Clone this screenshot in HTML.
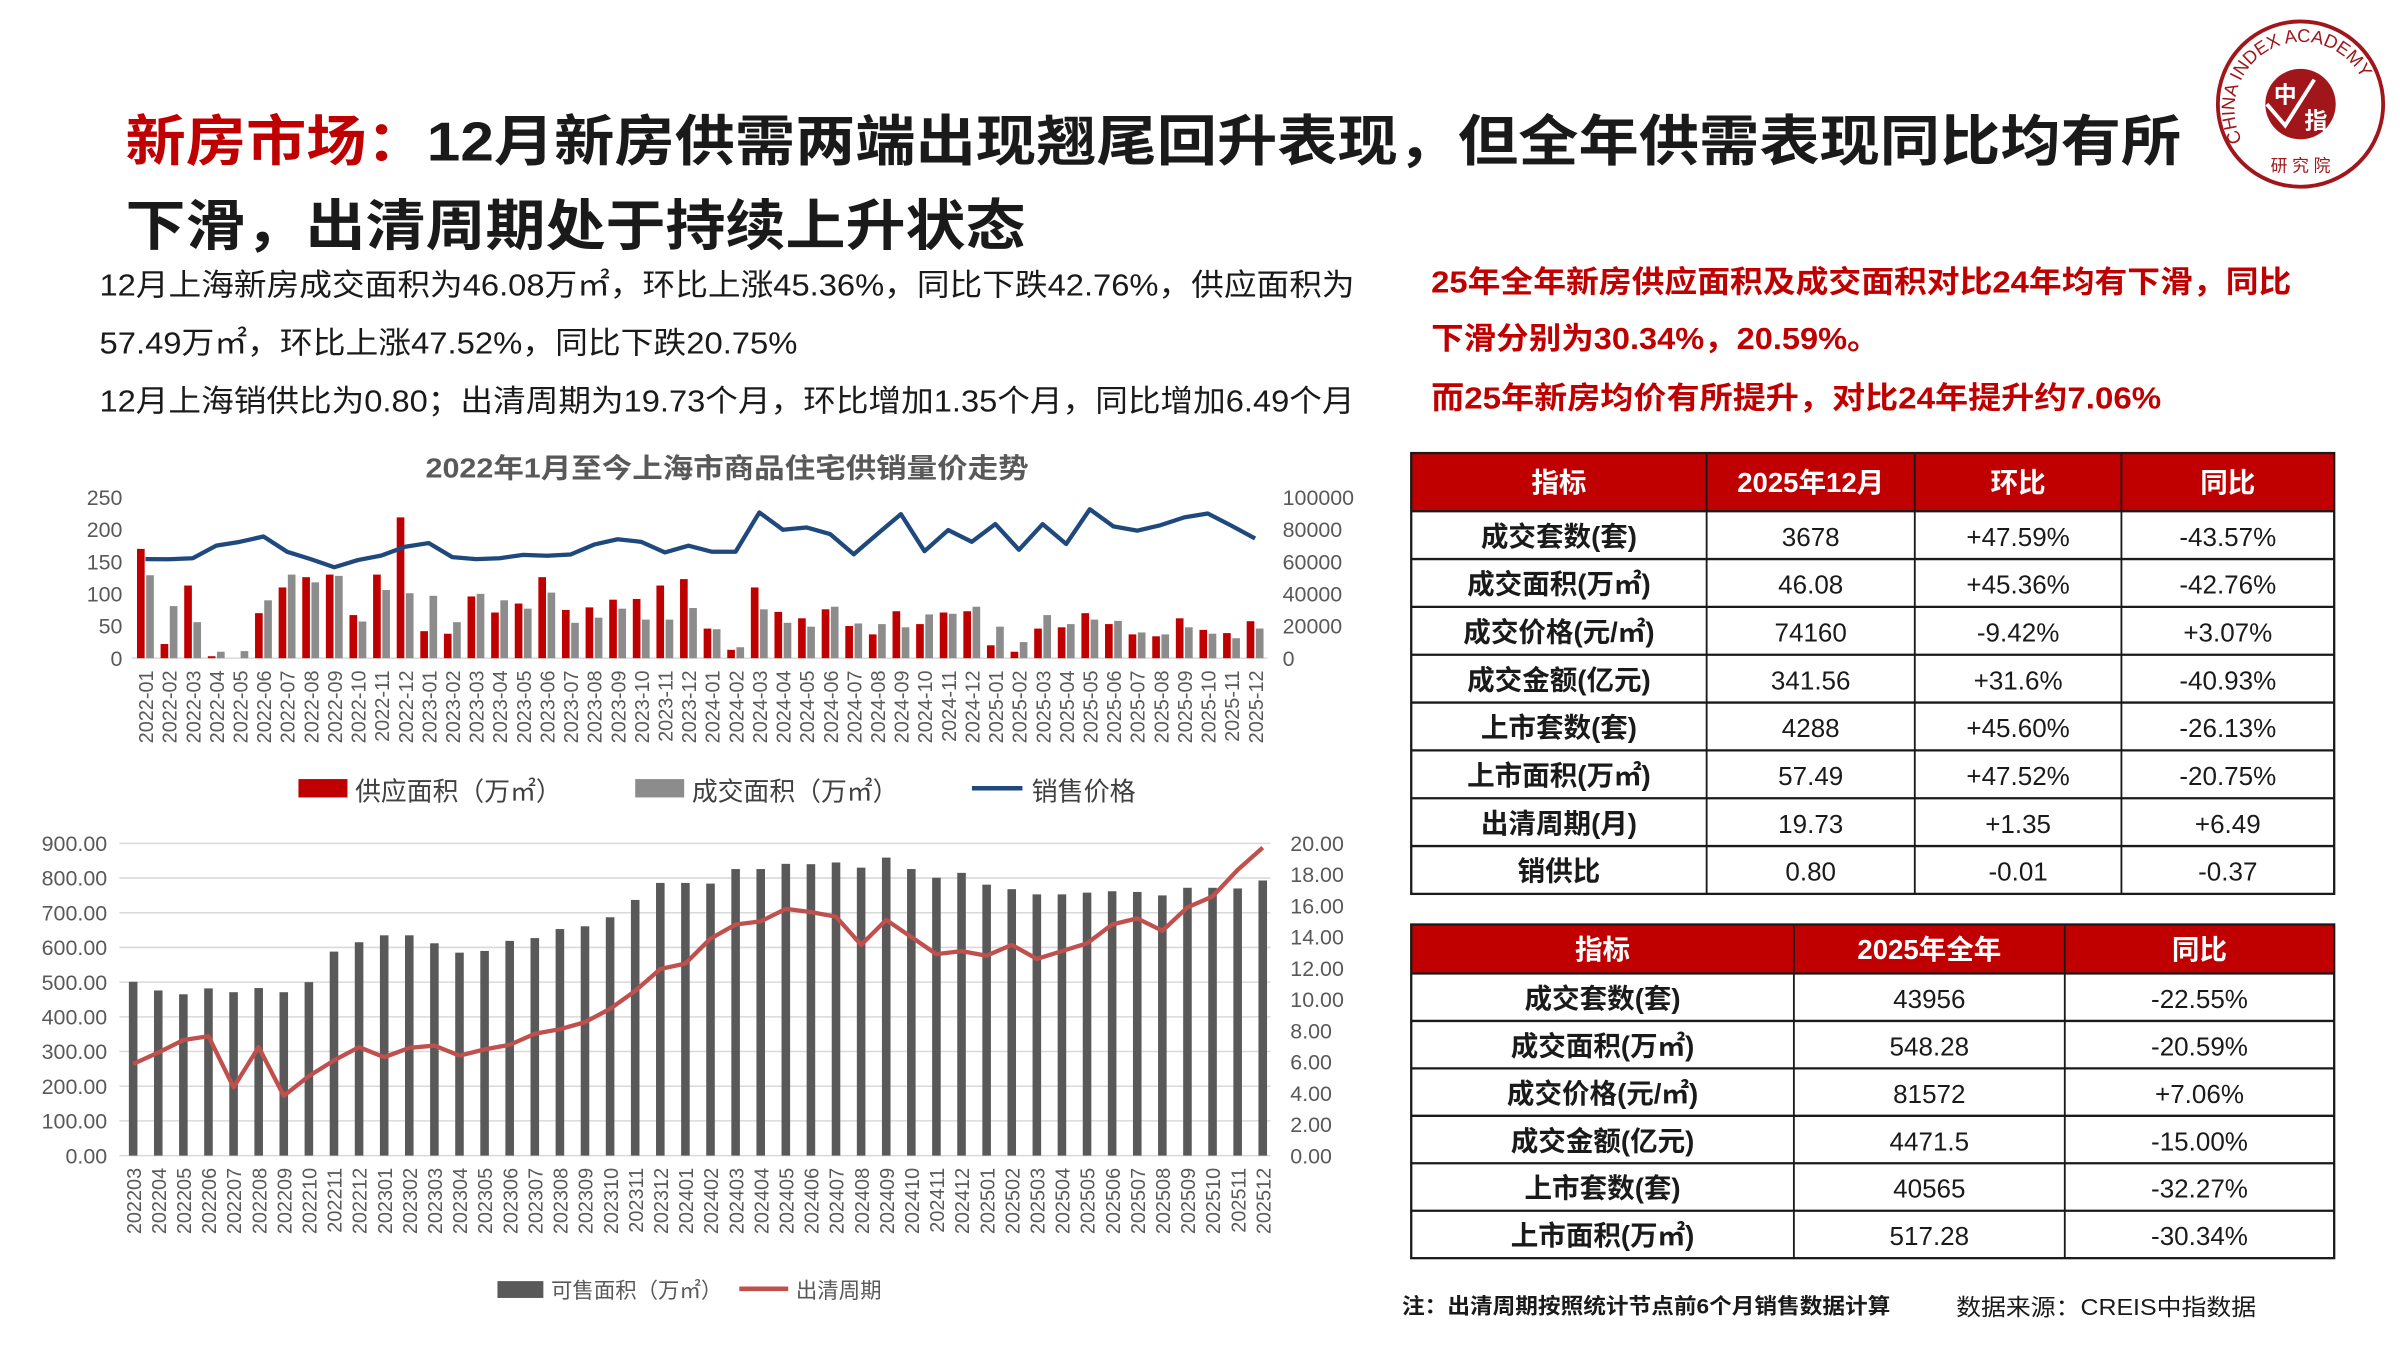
<!DOCTYPE html>
<html><head><meta charset="utf-8">
<style>
html,body{margin:0;padding:0;background:#fff;}
svg{display:block;}
text{font-family:"Liberation Sans","Noto Sans CJK SC",sans-serif;}
</style></head>
<body>
<svg id="s" xmlns="http://www.w3.org/2000/svg" width="2400" height="1350" viewBox="0 0 1568 882">
<rect width="1568" height="882" fill="#fff"/>
<!-- Title -->
<text x="82" y="105" font-size="36" font-weight="bold" fill="#1a1a1a" textLength="1343" lengthAdjust="spacingAndGlyphs"><tspan fill="#C00000">新房市场：</tspan>12月新房供需两端出现翘尾回升表现，但全年供需表现同比均有所</text>
<text x="82" y="160" font-size="36" font-weight="bold" fill="#1a1a1a" textLength="588" lengthAdjust="spacingAndGlyphs">下滑，出清周期处于持续上升状态</text>
<text x="65" y="193" font-size="20" fill="#1a1a1a" textLength="820" lengthAdjust="spacingAndGlyphs">12月上海新房成交面积为46.08万㎡，环比上涨45.36%，同比下跌42.76%，供应面积为</text>
<text x="65" y="231" font-size="20" fill="#1a1a1a" textLength="456" lengthAdjust="spacingAndGlyphs">57.49万㎡，环比上涨47.52%，同比下跌20.75%</text>
<text x="65" y="269" font-size="20" fill="#1a1a1a" textLength="820" lengthAdjust="spacingAndGlyphs">12月上海销供比为0.80；出清周期为19.73个月，环比增加1.35个月，同比增加6.49个月</text>
<text x="935" y="191" font-size="20" font-weight="bold" fill="#C00000" textLength="562" lengthAdjust="spacingAndGlyphs">25年全年新房供应面积及成交面积对比24年均有下滑，同比</text>
<text x="935" y="228" font-size="20" font-weight="bold" fill="#C00000" textLength="293" lengthAdjust="spacingAndGlyphs">下滑分别为30.34%，20.59%。</text>
<text x="935" y="267" font-size="20" font-weight="bold" fill="#C00000" textLength="477" lengthAdjust="spacingAndGlyphs">而25年新房均价有所提升，对比24年提升约7.06%</text>
<!-- Logo -->
<g>
<circle cx="1503" cy="68" r="54" fill="#fff" stroke="#A0161B" stroke-width="2.5"/>
<circle cx="1503" cy="68" r="23" fill="#A0161B"/>
<path d="M1481 68 L1493 82 L1512 52" fill="none" stroke="#fff" stroke-width="2.5"/>
<text x="1493" y="67" font-size="15" font-weight="bold" fill="#fff" text-anchor="middle">中</text>
<text x="1513" y="84" font-size="15" font-weight="bold" fill="#fff" text-anchor="middle">指</text>
<path id="arc" d="M1465 92 A44 44 0 1 1 1546 84" fill="none"/>
<text font-size="12" font-family="Liberation Serif" fill="#A0161B"><textPath href="#arc">CHINA INDEX ACADEMY</textPath></text>
<text x="1503" y="112" font-size="11" fill="#A0161B" text-anchor="middle">研 究 院</text>
</g>
<!-- chart 1 -->
<text x="475" y="312" font-size="18" font-weight="bold" fill="#595959" text-anchor="middle" textLength="394" lengthAdjust="spacingAndGlyphs">2022年1月至今上海市商品住宅供销量价走势</text>
<g id="c1"></g>
<!-- legend 1 -->
<rect x="195" y="509" width="32" height="12" fill="#C00000"/>
<text x="232" y="523" font-size="17" fill="#404040" textLength="135" lengthAdjust="spacingAndGlyphs">供应面积（万㎡）</text>
<rect x="415" y="509" width="32" height="12" fill="#8c8c8c"/>
<text x="452" y="523" font-size="17" fill="#404040" textLength="135" lengthAdjust="spacingAndGlyphs">成交面积（万㎡）</text>
<line x1="635" y1="515" x2="668" y2="515" stroke="#1F497D" stroke-width="3"/>
<text x="674" y="523" font-size="17" fill="#404040">销售价格</text>
<!-- chart 2 -->
<g id="c2"></g>
<rect x="325" y="837" width="30" height="11" fill="#595959"/>
<text x="360" y="848" font-size="14" fill="#595959">可售面积（万㎡）</text>
<line x1="483" y1="842" x2="515" y2="842" stroke="#C0504D" stroke-width="3"/>
<text x="520" y="848" font-size="14" fill="#595959">出清周期</text>
<!-- tables -->
<g id="t1"></g>
<g id="t2"></g>
<text x="916" y="858" font-size="14" font-weight="bold" fill="#1a1a1a" textLength="319" lengthAdjust="spacingAndGlyphs">注：出清周期按照统计节点前6个月销售数据计算</text>
<text x="1278" y="859" font-size="15" fill="#1a1a1a" textLength="196" lengthAdjust="spacingAndGlyphs">数据来源：CREIS中指数据</text>
</svg>
<script>
const NS="http://www.w3.org/2000/svg";
function el(p,tag,attrs,txt){const e=document.createElementNS(NS,tag);for(const k in attrs)e.setAttribute(k,attrs[k]);if(txt!==undefined)e.textContent=txt;p.appendChild(e);return e;}
const c1=document.getElementById('c1');
const red=[170,22,113,3,0,70,110,126,130,67,130,219,42,38,96,71,85,126,75,79,91,92,113,123,46,13,110,72,62,76,50,37,73,53,71,73,20,10,46,48,70,53,37,34,62,44,39,57.49];
const gray=[129,81,56,10,11,90,130,118,128,57,106,101,97,56,100,90,77,102,55,63,77,60,60,78,45,17,76,55,49,80,54,53,48,68,69,80,49,25,67,53,60,58,40,37,48,38,31,46.08];
const price=[61600,61500,62200,70000,72400,75700,66200,61600,56600,61000,63900,69300,71600,62900,61600,62200,64300,63700,64500,70700,74000,72400,65800,70000,66200,66200,90700,79900,81300,77200,64700,77200,89600,66600,79700,72400,83400,67400,83400,71000,92700,82000,79300,82800,87600,90000,82400,74500];
const y0=430,sc=105/250,x0=95,st=(820-95)/47;
[0,50,100,150,200,250].forEach(v=>el(c1,'text',{x:80,y:y0-v*sc+5,'font-size':14,fill:'#595959','text-anchor':'end'},v));
[0,20000,40000,60000,80000,100000].forEach(v=>el(c1,'text',{x:838,y:y0-v*105/100000+5,'font-size':14,fill:'#595959'},v));
el(c1,'line',{x1:86,y1:y0,x2:828,y2:y0,stroke:'#d9d9d9','stroke-width':1});
let pts=[];
for(let i=0;i<48;i++){const cx=x0+i*st;
 el(c1,'rect',{x:cx-5.5,y:y0-red[i]*sc,width:5,height:red[i]*sc,fill:'#C00000'});
 el(c1,'rect',{x:cx+0.5,y:y0-gray[i]*sc,width:5,height:gray[i]*sc,fill:'#8c8c8c'});
 pts.push(cx.toFixed(1)+','+(y0-price[i]*105/100000).toFixed(1));
 const yr=2022+Math.floor(i/12),m=i%12+1;
 el(c1,'text',{transform:`translate(${cx+5},${y0+8}) rotate(-90)`,'font-size':13,fill:'#595959','text-anchor':'end'},yr+'-'+(m<10?'0':'')+m);
}
el(c1,'polyline',{points:pts.join(' '),fill:'none',stroke:'#1F497D','stroke-width':2.8,'stroke-linejoin':'round'});
const c2=document.getElementById('c2');
const stock=[501,476,465,482,471,483,471,500,588,615,635,635,612,585,590,619,627,653,661,687,737,786,786,784,826,826,841,840,845,830,859,826,801,815,781,768,753,753,758,762,760,750,772,772,770,793];
const cyc=[5.87,6.6,7.4,7.65,4.37,6.95,3.83,5.1,6.1,6.95,6.3,6.9,7.05,6.4,6.8,7.1,7.8,8.1,8.55,9.4,10.55,11.95,12.3,13.9,14.8,15.0,15.8,15.6,15.3,13.5,15.1,14.0,12.9,13.1,12.8,13.5,12.6,13.1,13.6,14.8,15.2,14.4,15.9,16.6,18.3,19.73];
const b0=755,bs=204/900,bx0=87,bst=(825-87)/45;
for(let v=0;v<=900;v+=100){const y=b0-v*bs;
 el(c2,'line',{x1:78,y1:y,x2:830,y2:y,stroke:'#d9d9d9','stroke-width':1});
 el(c2,'text',{x:70,y:y+5,'font-size':14,fill:'#595959','text-anchor':'end'},v.toFixed(2));}
for(let v=0;v<=20;v+=2){const y=b0-v*204/20;
 el(c2,'text',{x:843,y:y+5,'font-size':14,fill:'#595959'},v.toFixed(2));}
let p2=[];
for(let i=0;i<46;i++){const cx=bx0+i*bst;const mi=i+2;const yr=2022+Math.floor(mi/12),m=mi%12+1;
 el(c2,'rect',{x:cx-2.8,y:b0-stock[i]*bs,width:5.6,height:stock[i]*bs,fill:'#595959'});
 p2.push(cx.toFixed(1)+','+(b0-cyc[i]*204/20).toFixed(1));
 el(c2,'text',{transform:`translate(${cx+5},${b0+8}) rotate(-90)`,'font-size':13,fill:'#595959','text-anchor':'end'},''+yr+(m<10?'0':'')+m);
}
el(c2,'polyline',{points:p2.join(' '),fill:'none',stroke:'#C0504D','stroke-width':2.8,'stroke-linejoin':'round'});
function table(g,x,cols,y,hh,rh,head,rows){
 const W=cols.reduce((a,b)=>a+b,0);
 el(g,'rect',{x:x,y:y,width:W,height:hh,fill:'#C00000'});
 let cx=x;
 head.forEach((h,i)=>{el(g,'text',{x:cx+cols[i]/2,y:y+hh/2+6.5,'font-size':18,'font-weight':'bold',fill:'#fff','text-anchor':'middle'},h);cx+=cols[i];});
 rows.forEach((r,j)=>{const ry=y+hh+j*rh;cx=x;
  r.forEach((t,i)=>{el(g,'text',{x:cx+cols[i]/2,y:ry+rh/2+7,'font-size':i==0?18:17,'font-weight':i==0?'bold':'normal',fill:'#1a1a1a','text-anchor':'middle'},t);cx+=cols[i];});
  el(g,'line',{x1:x,y1:ry,x2:x+W,y2:ry,stroke:'#1a1a1a','stroke-width':1.5});
 });
 const H=hh+rows.length*rh;
 el(g,'rect',{x:x,y:y,width:W,height:H,fill:'none',stroke:'#1a1a1a','stroke-width':1.5});
 cx=x;cols.slice(0,-1).forEach(c=>{cx+=c;el(g,'line',{x1:cx,y1:y,x2:cx,y2:y+H,stroke:'#1a1a1a','stroke-width':1.2});});
}
table(document.getElementById('t1'),922,[193,136,135,139],296,38,31.25,['指标','2025年12月','环比','同比'],[
['成交套数(套)','3678','+47.59%','-43.57%'],['成交面积(万㎡)','46.08','+45.36%','-42.76%'],['成交价格(元/㎡)','74160','-9.42%','+3.07%'],['成交金额(亿元)','341.56','+31.6%','-40.93%'],['上市套数(套)','4288','+45.60%','-26.13%'],['上市面积(万㎡)','57.49','+47.52%','-20.75%'],['出清周期(月)','19.73','+1.35','+6.49'],['销供比','0.80','-0.01','-0.37']]);
table(document.getElementById('t2'),922,[250,177,176],604,32,31,['指标','2025年全年','同比'],[
['成交套数(套)','43956','-22.55%'],['成交面积(万㎡)','548.28','-20.59%'],['成交价格(元/㎡)','81572','+7.06%'],['成交金额(亿元)','4471.5','-15.00%'],['上市套数(套)','40565','-32.27%'],['上市面积(万㎡)','517.28','-30.34%']]);
</script>
</body></html>
